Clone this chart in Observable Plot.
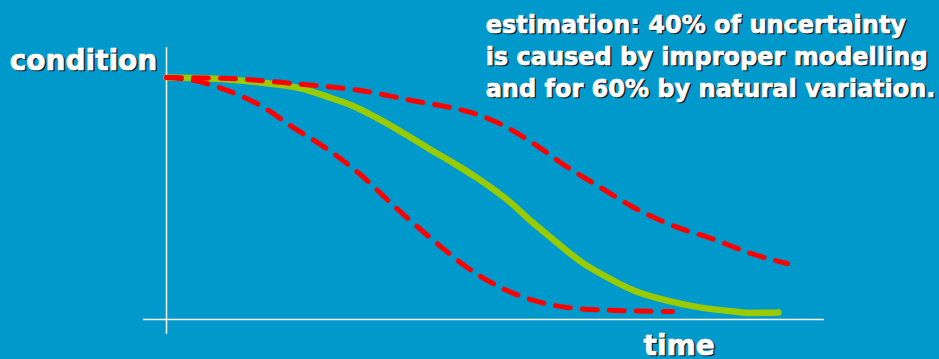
<!DOCTYPE html>
<html>
<head>
<meta charset="utf-8">
<script src="https://cdn.jsdelivr.net/npm/d3@7"></script>
<script src="https://cdn.jsdelivr.net/npm/@observablehq/plot@0.6"></script>
<style>
  html, body { margin: 0; padding: 0; background: #0099CC; }
  #chart svg { display: block; }
</style>
</head>
<body>
<div id="chart"></div>
<script>
// Expected deterioration curve (time 0–100, condition 0–100)
const expectedTime = [0, 9.3, 14.3, 20.4, 24.5, 28.0, 32.1, 35.6, 39.7, 43.2, 47.3, 52.3, 55.3, 58.4, 63.4, 66.0, 71.0, 76.1, 81.0, 86.2, 88.8, 93.0];
const expectedCond = [100, 99.2, 97.9, 95.5, 92.0, 88.6, 83.1, 77.7, 70.9, 65.3, 58.3, 48.3, 40.9, 33.9, 23.1, 18.9, 12.0, 7.8, 5.0, 3.3, 2.7, 2.9];

// Upper uncertainty bound
const upperTime = [0, 9.3, 19.3, 29.5, 38.1, 43.2, 47.7, 51.8, 55.8, 60.9, 66.0, 71.0, 76.1, 83.7, 88.8, 94.4];
const upperCond = [100, 99.6, 97.5, 94.6, 90.1, 87.6, 84.3, 79.3, 72.7, 63.0, 54.5, 46.3, 39.7, 32.6, 27.3, 23.1];

// Lower uncertainty bound
const lowerTime = [0, 4.1, 9.3, 14.3, 19.3, 24.5, 29.5, 34.5, 40.6, 45.7, 50.8, 55.8, 60.9, 68.5, 76.9];
const lowerCond = [100, 98.8, 94.6, 88.4, 79.3, 70.3, 59.8, 47.1, 32.6, 21.5, 13.2, 7.9, 5.0, 3.7, 3.3];

// Axis lines
const axisTimeSpan = [-3.5, 100];
const axisCondSpan = [-6.2, 112.4];

// Text labels
const labelText = ["condition", "time", "estimation: 40% of uncertainty\nis caused by improper modelling\nand for 60% by natural variation."];
const labelTime = [-1.4, 72.5, 48.5];
const labelCond = [103.3, -14.5, 92.1];
const labelSize = [28, 28, 24];
const labelAnchor = ["end", "start", "start"];

const toPoints = (ts, cs) => ts.map((t, i) => ({time: t, condition: cs[i]}));
const expected = toPoints(expectedTime, expectedCond);
const upper = toPoints(upperTime, upperCond);
const lower = toPoints(lowerTime, lowerCond);
const labels = labelText.map((text, i) => ({text, time: labelTime[i], condition: labelCond[i], size: labelSize[i], anchor: labelAnchor[i]}));

const font = "Verdana, 'DejaVu Sans', sans-serif";

// Bold white label with a dark drop shadow behind it
function labelMarks(label, color, dx, dy) {
  return Plot.text([label], {
    x: "time", y: "condition", text: "text",
    textAnchor: label.anchor, lineAnchor: "bottom",
    lineHeight: 32 / label.size,
    fontSize: label.size, fontWeight: "bold", fontFamily: font,
    fill: color, stroke: color, strokeWidth: 0.7, dx, dy
  });
}

const chart = Plot.plot({
  width: 939,
  height: 359,
  marginLeft: 166,
  marginRight: 115,
  marginTop: 77,
  marginBottom: 40,
  x: {domain: [0, 100], axis: null},
  y: {domain: [0, 100], axis: null},
  style: {background: "#0099CC", overflow: "visible"},
  marks: [
    Plot.ruleY([0], {x1: axisTimeSpan[0], x2: axisTimeSpan[1], stroke: "white", strokeWidth: 1.5}),
    Plot.ruleX([0], {y1: axisCondSpan[0], y2: axisCondSpan[1], stroke: "white", strokeWidth: 1.5}),
    Plot.line(expected, {x: "time", y: "condition", stroke: "#99CC00", strokeWidth: 6.5, curve: "monotone-x"}),
    Plot.line(upper, {x: "time", y: "condition", stroke: "#FF0000", strokeWidth: 5, strokeDasharray: "15,12", curve: "monotone-x"}),
    Plot.line(lower, {x: "time", y: "condition", stroke: "#FF0000", strokeWidth: 5, strokeDasharray: "15,12", curve: "monotone-x"}),
    ...labels.flatMap(l => [labelMarks(l, "#1a1a1a", 1.5, 1.5), labelMarks(l, "white", 0, 0)])
  ]
});

document.getElementById("chart").appendChild(chart);
</script>
</body>
</html>
